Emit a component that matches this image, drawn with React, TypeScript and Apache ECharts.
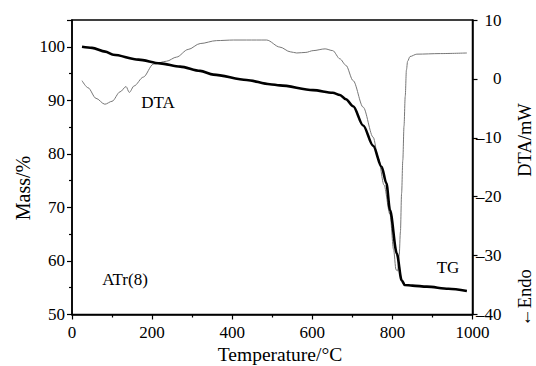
import React, { useEffect, useRef } from "react";
import * as echarts from "echarts";

const tgTemp = [25, 50, 83, 103, 166, 220, 270, 320, 353, 436, 494, 519, 602, 651, 669, 684, 702, 727, 752, 773, 785, 794, 811, 823, 831, 850, 886, 940, 986];
const tgMass = [100, 99.8, 99.1, 98.5, 97.6, 96.9, 96.3, 95.5, 94.8, 93.8, 93.0, 92.8, 91.9, 91.4, 91.0, 90.2, 88.9, 85.3, 81.5, 77.6, 74.5, 69.5, 61.4, 56.4, 55.5, 55.4, 55.2, 54.8, 54.4];

const dtaTemp = [25, 40, 60, 82, 100, 120, 135, 143, 155, 178, 203, 236, 261, 290, 320, 361, 403, 436, 486, 519, 545, 561, 584, 602, 632, 651, 669, 684, 702, 727, 752, 765, 779, 794, 803, 809, 813, 817, 820, 823, 826, 829, 832, 835, 838, 844, 861, 920, 986];
const dtaVal = [-0.3, -1.5, -3.3, -4.3, -3.8, -2.2, -1.3, -2.3, -1.2, 0.3, 2.5, 3.0, 3.7, 5.0, 6.0, 6.5, 6.6, 6.6, 6.6, 5.4, 4.6, 4.4, 4.5, 4.8, 5.1, 4.8, 3.4, 2.3, -0.3, -4.8, -9.9, -13.5, -18, -23, -29, -32.4, -32.6, -30, -26, -19.4, -13.8, -8, -3, 1.5, 3.0, 3.8, 4.2, 4.3, 4.4];

const xTicks = [0, 1000, 200];
const massRange = [50, 105, 10];
const dtaRange = [-40, 10, 10];

const FONT = "'Liberation Serif', 'Times New Roman', serif";

export default function App() {
  const ref = useRef<HTMLDivElement>(null);
  useEffect(() => {
    if (!ref.current) return;
    const chart = echarts.init(ref.current, null, { renderer: "svg" });
    const labelStyle = { color: "#000", fontFamily: FONT, fontSize: 17, hideOverlap: false };
    chart.setOption({
      animation: false,
      backgroundColor: "#fff",
      grid: {
        left: 72,
        right: 63.5,
        top: 20,
        bottom: 51.5,
        show: true,
        borderColor: "#000",
        borderWidth: 1.5,
      },
      xAxis: {
        type: "value",
        min: xTicks[0],
        max: xTicks[1],
        interval: xTicks[2],
        axisLine: { show: true, onZero: false, lineStyle: { color: "#000", width: 1.5 } },
        axisTick: { show: true, inside: false, length: 5, lineStyle: { color: "#000", width: 1.2 } },
        minorTick: { show: true, splitNumber: 2, length: 3, lineStyle: { color: "#000", width: 1.2 } },
        splitLine: { show: false },
        axisLabel: { ...labelStyle, margin: 9, formatter: (v: number) => String(v) },
      },
      yAxis: [
        {
          type: "value",
          position: "left",
          min: massRange[0],
          max: massRange[1],
          interval: massRange[2],
          axisLine: { show: true, onZero: false, lineStyle: { color: "#000", width: 1.5 } },
          axisTick: { show: true, length: 5, lineStyle: { color: "#000", width: 1.2 } },
          minorTick: { show: true, splitNumber: 2, length: 3, lineStyle: { color: "#000", width: 1.2 } },
          splitLine: { show: false },
          axisLabel: {
            ...labelStyle,
            margin: 7,
            formatter: (v: number) => (v > 100 ? "" : String(v)),
          },
        },
        {
          type: "value",
          position: "right",
          min: dtaRange[0],
          max: dtaRange[1],
          interval: dtaRange[2],
          axisLine: { show: true, onZero: false, lineStyle: { color: "#000", width: 1.5 } },
          axisTick: { show: true, length: 5, lineStyle: { color: "#000", width: 1.2 } },
          splitLine: { show: false },
          axisLabel: {
            ...labelStyle,
            align: "right",
            margin: 29,
            formatter: (v: number) => (v < 0 ? "\u2013" + String(-v) : String(v)),
          },
        },
      ],
      series: [
        {
          type: "line",
          name: "DTA",
          yAxisIndex: 1,
          data: dtaTemp.map((t, i) => [t, dtaVal[i]]),
          showSymbol: false,
          smooth: 0.3,
          smoothMonotone: "x",
          lineStyle: { color: "#777", width: 1 },
          z: 2,
        },
        {
          type: "line",
          name: "TG",
          yAxisIndex: 0,
          data: tgTemp.map((t, i) => [t, tgMass[i]]),
          showSymbol: false,
          smooth: 0.3,
          smoothMonotone: "x",
          lineStyle: { color: "#000", width: 2.6 },
          z: 3,
        },
      ],
      graphic: [
        { type: "text", x: 158, y: 102, style: { text: "DTA", fontFamily: FONT, fontSize: 17, fill: "#000", align: "center", verticalAlign: "middle" } },
        { type: "text", x: 125, y: 279, style: { text: "ATr(8)", fontFamily: FONT, fontSize: 17, fill: "#000", align: "center", verticalAlign: "middle" } },
        { type: "text", x: 448, y: 267, style: { text: "TG", fontFamily: FONT, fontSize: 17, fill: "#000", align: "center", verticalAlign: "middle" } },
        { type: "text", x: 280, y: 354, style: { text: "Temperature/\u00b0C", fontFamily: FONT, fontSize: 19.5, fill: "#000", align: "center", verticalAlign: "middle" } },
        { type: "text", x: 23, y: 188, rotation: Math.PI / 2, style: { text: "Mass/%", fontFamily: FONT, fontSize: 20, fill: "#000", align: "center", verticalAlign: "middle" } },
        { type: "text", x: 525, y: 140, rotation: Math.PI / 2, style: { text: "DTA/mW", fontFamily: FONT, fontSize: 18.5, fill: "#000", align: "center", verticalAlign: "middle" } },
        { type: "text", x: 525, y: 298, rotation: Math.PI / 2, style: { text: "\u2190Endo", fontFamily: FONT, fontSize: 18.5, fill: "#000", align: "center", verticalAlign: "middle" } },
      ],
    });
    return () => chart.dispose();
  }, []);
  return <div ref={ref} style={{ width: 536, height: 366, position: "absolute", left: 0, top: 0 }} />;
}
